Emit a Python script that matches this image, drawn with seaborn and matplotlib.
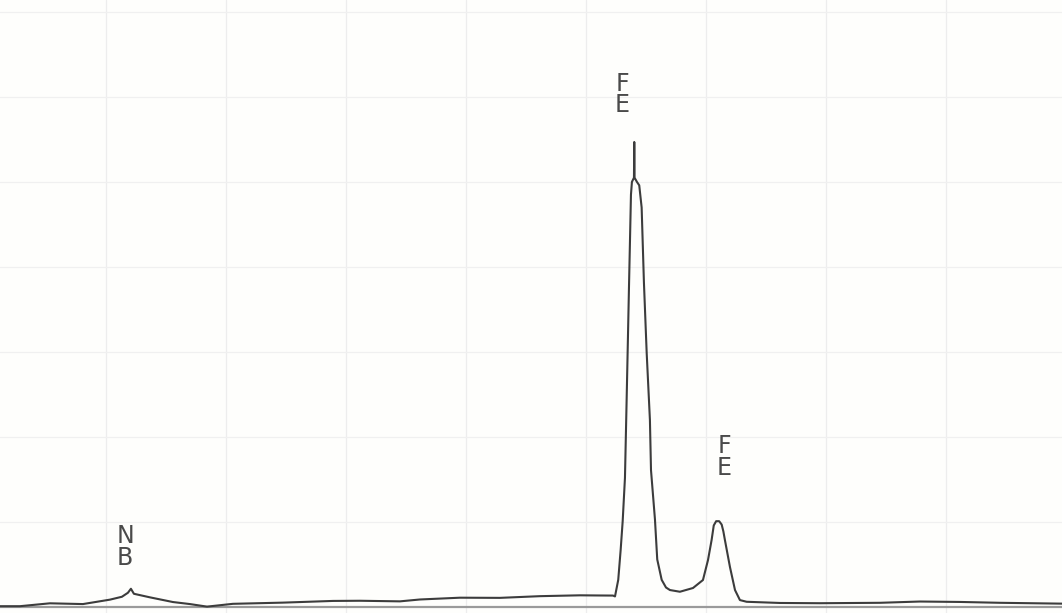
"""
EDS spectrum trace (Fe K lines, Nb L line) redrawn from a chart-recorder scan.
"""

import matplotlib
matplotlib.use('Agg')  # no display
import matplotlib.pyplot as plt  # noqa: E402
import seaborn as sns  # noqa: E402
import pandas as pd  # noqa: E402

# energy in keV, intensity in grid units (one major division = 10)
energy_kev = [
    1.117, 1.283, 1.533, 1.808, 2.033, 2.133, 2.183, 2.208, 2.233, 2.367,
    2.558, 2.700, 2.842, 3.058, 3.475, 3.892, 4.117, 4.450, 4.617, 4.950,
    5.283, 5.617, 5.950, 6.117, 6.225,
    6.242, 6.269, 6.289, 6.306, 6.325, 6.339, 6.350, 6.358, 6.367, 6.375,
    6.383, 6.400, 6.4025, 6.405, 6.425, 6.444, 6.464, 6.483, 6.506, 6.533,
    6.542, 6.575, 6.594, 6.631, 6.667, 6.700, 6.783,
    6.892, 6.975, 7.017, 7.047, 7.065, 7.085, 7.110, 7.131, 7.145, 7.158,
    7.200, 7.242, 7.283, 7.339, 7.617, 7.950, 8.450, 8.783, 9.117, 9.450,
    9.967,
]
intensity = [
    0.1, 0.1, 0.44, 0.35, 0.87, 1.21, 1.68, 2.15, 1.56, 1.14,
    0.59, 0.35, 0.05, 0.38, 0.52, 0.72, 0.74, 0.67, 0.89, 1.10,
    1.08, 1.28, 1.38, 1.36, 1.35,
    1.25, 3.2, 6.7, 10.1, 15.2, 24.4, 31.8, 37.3, 43.2, 48.5,
    50.0, 50.5, 54.7, 50.5, 50.0, 49.6, 47.0, 38.2, 29.9, 22.0,
    16.1, 10.3, 5.6, 3.2, 2.3, 2.0, 1.8,
    2.24, 3.18, 5.53, 7.88, 9.6, 10.1, 10.1, 9.7, 8.9, 7.88,
    4.71, 2.0, 0.82, 0.62, 0.48, 0.45, 0.50, 0.65, 0.60, 0.50,
    0.40,
]

# peak labels: element symbol written letter over letter
label_text = ['F\nE', 'F\nE', 'N\nB']
label_energy = [6.30, 7.15, 2.16]
label_height = [57.6, 15.0, 4.4]

spectrum = pd.DataFrame({'energy': energy_kev, 'counts': intensity})

sns.set_theme(style='white')
plt.rcParams['font.family'] = ['DejaVu Sans']

fig = plt.figure(figsize=(10.62, 6.13), dpi=100)
fig.patch.set_facecolor('#fefefc')
ax = fig.add_axes([0, 0, 1, 1])
ax.set_facecolor('#fefefc')

# faint chart-paper grid
for e in range(2, 10):
    ax.axvline(e, color='#ededed', lw=0.9, zorder=0)
for v in range(10, 80, 10):
    ax.axhline(v, color='#f0f0f0', lw=0.9, zorder=0)
ax.axhline(0, color='#9a9a9a', lw=1.6, zorder=1)

sns.lineplot(
    data=spectrum,
    x='energy',
    y='counts',
    sort=False,
    estimator=None,
    color='#3c3c3c',
    linewidth=1.5,
    ax=ax
)

for txt, e, h in zip(label_text, label_energy, label_height):
    ax.text(e, h, txt, ha='center', va='bottom', fontsize=17,
            linespacing=0.85, color='#4a4a4a')

ax.set_xlim(1.117, 9.967)
ax.set_ylim(-0.7, 71.4)
ax.set_xlabel('')
ax.set_ylabel('')
ax.set_xticks([])
ax.set_yticks([])
for s in ax.spines.values():
    s.set_visible(False)

plt.savefig('out.png', dpi=100)
plt.close()
